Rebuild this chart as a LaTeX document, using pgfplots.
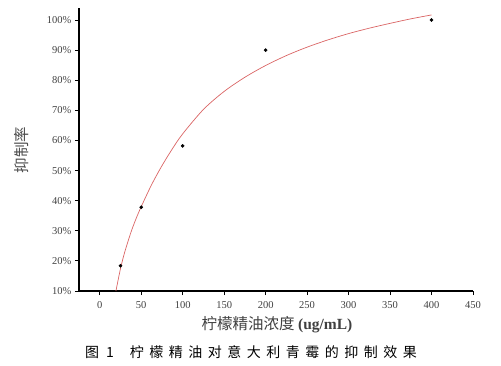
\documentclass[border=0pt]{standalone}
\usepackage{fontspec}
\setmainfont{Liberation Serif}
\newfontfamily\cjk{Noto Sans CJK SC}
\usepackage{pgfplots}
\pgfplotsset{compat=1.18}
\definecolor{fitred}{RGB}{218,100,100}
\begin{document}
\begin{tikzpicture}
\useasboundingbox (0pt,0pt) rectangle (501pt,365pt);
\begin{axis}[
  at={(79pt,74pt)}, anchor=south west,
  scale only axis, width=394pt, height=283pt,
  xmin=-25, xmax=450, ymin=10, ymax=104,
  axis lines=left, axis line style={-, line width=1.3pt},
  xtick={0,50,...,450}, ytick={10,20,...,100},
  yticklabel={\pgfmathprintnumber{\tick}\%},
  /pgf/number format/assume math mode=true,
  tick style={black, line width=0.9pt}, tick align=outside,
  major tick length=4pt,
  ticklabel style={font=\fontsize{10.5}{12}\selectfont, text=black!75},
  xticklabel style={yshift=-3pt},
  clip=false,
]
\addplot[fitred, line width=0.7pt, smooth, tension=0.5] coordinates {
(19.5,10) (25,17.4) (30,22.8) (37.5,29.4) (43.75,34) (50,38) (62.5,45.3) (75,51.6) (87.5,57.2) (100,62.2) (125,70.3) (150,76.3) (175,81.0) (200,84.9) (225,88.2) (250,91.0) (275,93.4) (300,95.5) (325,97.3) (350,98.9) (375,100.4) (400,101.7)};
\addplot[only marks, mark=*, mark size=1.6pt, black] coordinates {
(25,18.4) (50,37.8) (100,58.2) (200,90) (400,100)};
\end{axis}
\node[rotate=90, text=black!70] at (22pt,215pt) {\cjk\fontsize{15.5}{17}\selectfont 抑制率};
\node[text=black!75] at (277pt,40pt) {\cjk\fontsize{15.5}{17}\selectfont 柠檬精油浓度 {\rmfamily\bfseries (ug/mL)}};
\node[text=black] at (251pt,13pt) {\cjk\fontsize{14}{16}\selectfont 图\hspace{7pt}1\hspace{16pt}柠\hspace{5.5pt}檬\hspace{5.5pt}精\hspace{5.5pt}油\hspace{5.5pt}对\hspace{5.5pt}意\hspace{5.5pt}大\hspace{5.5pt}利\hspace{5.5pt}青\hspace{5.5pt}霉\hspace{5.5pt}的\hspace{5.5pt}抑\hspace{5.5pt}制\hspace{5.5pt}效\hspace{5.5pt}果};
\end{tikzpicture}
\end{document}
